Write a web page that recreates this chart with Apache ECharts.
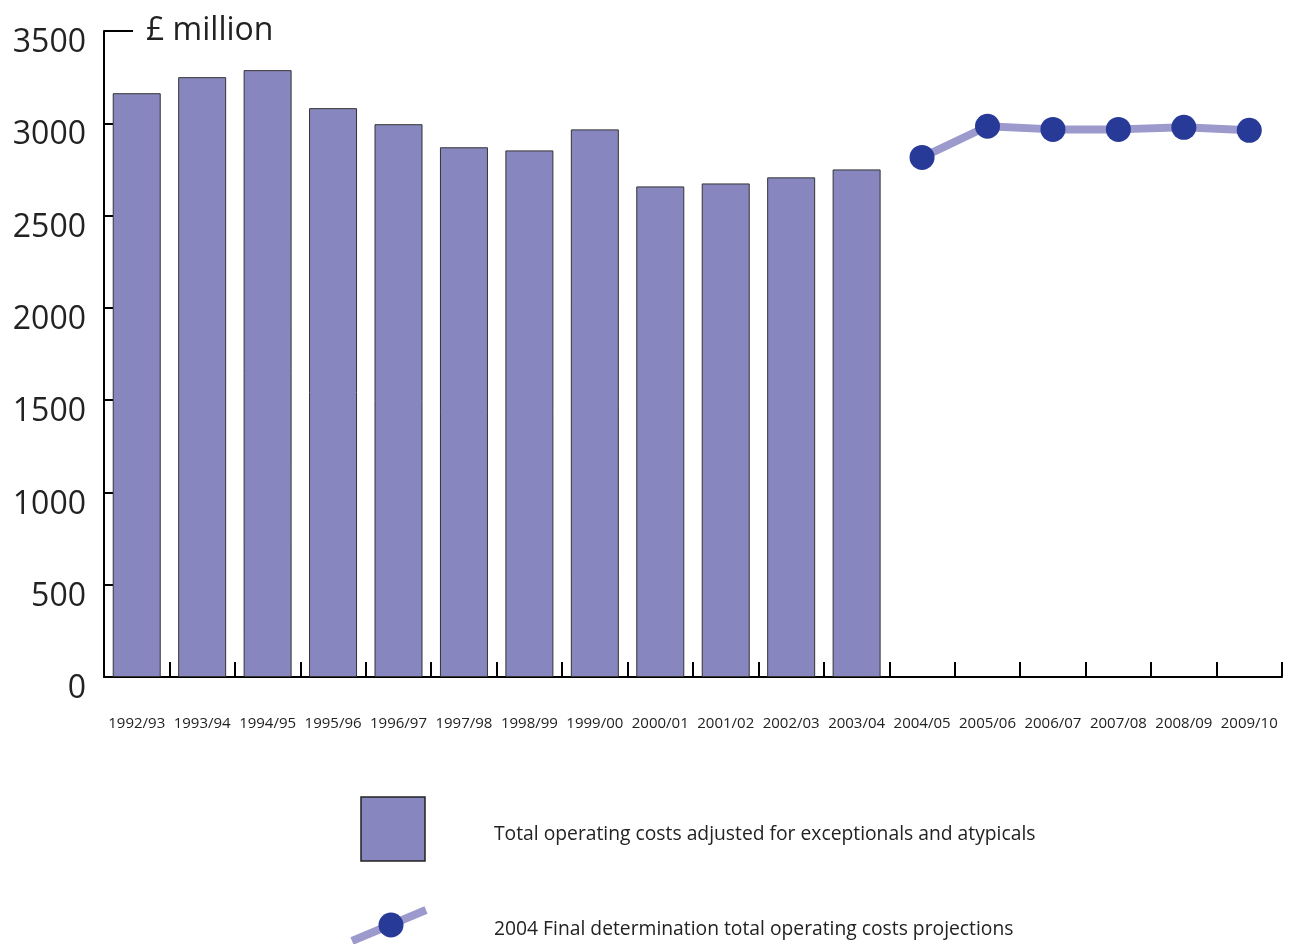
<!DOCTYPE html>
<html>
<head>
<meta charset="utf-8">
<script src="https://cdn.jsdelivr.net/npm/echarts@6/dist/echarts.min.js"></script>
<style>
html,body{margin:0;padding:0;background:#fff;}
#chart{width:1289px;height:944px;}
</style>
</head>
<body>
<div id="chart"></div>
<script>
var categories = ['1992/93','1993/94','1994/95','1995/96','1996/97','1997/98','1998/99','1999/00','2000/01','2001/02','2002/03','2003/04','2004/05','2005/06','2006/07','2007/08','2008/09','2009/10'];
var actualCosts = [3163, 3250, 3288, 3082, 2995, 2870, 2853, 2967, 2658, 2674, 2707, 2750, '-', '-', '-', '-', '-', '-'];
var projectedCosts = ['-', '-', '-', '-', '-', '-', '-', '-', '-', '-', '-', '-', 2815, 2984, 2967, 2967, 2978, 2962];
var seriesNames = ['Total operating costs adjusted for exceptionals and atypicals', '2004 Final determination total operating costs projections'];
var unitLabel = '£ million';

var FONT = '"Open Sans", "Noto Sans", sans-serif';
var BAR_COLOR = '#8886BF';
var LINE_COLOR = '#9C9ACD';
var DOT_COLOR = '#283A97';
var TEXT = '#222';

var chart = echarts.init(document.getElementById('chart'), null, {renderer: 'canvas'});
chart.setOption({
  animation: false,
  backgroundColor: '#fff',
  grid: {left: 104, right: 7, top: 31, bottom: 267, containLabel: false},
  xAxis: {
    type: 'category',
    data: categories,
    boundaryGap: true,
    axisLine: {show: true, lineStyle: {color: '#000', width: 2}},
    axisTick: {show: true, inside: true, length: 15, interval: 0, alignWithLabel: false, lineStyle: {color: '#000', width: 2}},
    axisLabel: {show: true, color: TEXT, fontFamily: FONT, fontSize: 15, margin: 39, interval: 0}
  },
  yAxis: [{
    type: 'value',
    min: 0, max: 3500, interval: 500,
    axisLine: {show: true, lineStyle: {color: '#000', width: 2}},
    axisTick: {show: true, inside: true, length: 9, lineStyle: {color: '#000', width: 2}},
    splitLine: {show: false},
    axisLabel: {color: TEXT, fontFamily: FONT, fontSize: 32, margin: 18, verticalAlign: 'top', lineHeight: 24,
      formatter: function (v) { return String(v); }}
  }, {
    type: 'value',
    position: 'left',
    min: 0, max: 3500, interval: 3500,
    name: unitLabel,
    nameLocation: 'end',
    nameGap: 0,
    nameTextStyle: {color: TEXT, fontFamily: FONT, fontSize: 32, align: 'left', verticalAlign: 'middle', padding: [0, 0, 6, 42]},
    axisLine: {show: false},
    axisTick: {show: true, inside: true, length: 29, lineStyle: {color: '#000', width: 2}},
    splitLine: {show: false},
    axisLabel: {show: false}
  }],
  series: [{
    name: seriesNames[0],
    type: 'bar',
    data: actualCosts,
    barWidth: 48,
    itemStyle: {color: BAR_COLOR, borderColor: '#333', borderWidth: 1}
  }, {
    name: seriesNames[1],
    type: 'line',
    data: projectedCosts,
    symbol: 'circle',
    symbolSize: 25,
    lineStyle: {color: LINE_COLOR, width: 8},
    itemStyle: {color: DOT_COLOR},
    z: 5
  }],
  graphic: [
    {type: 'rect', shape: {x: 361, y: 797, width: 64, height: 64}, style: {fill: BAR_COLOR, stroke: '#222', lineWidth: 1.5}},
    {type: 'text', x: 494, y: 835, style: {text: seriesNames[0], fill: TEXT, font: '19.3px ' + FONT, textVerticalAlign: 'middle', verticalAlign: 'middle'}},
    {type: 'line', shape: {x1: 352, y1: 941, x2: 426, y2: 910}, style: {stroke: LINE_COLOR, lineWidth: 8}},
    {type: 'circle', shape: {cx: 391, cy: 925, r: 12.5}, style: {fill: DOT_COLOR}},
    {type: 'text', x: 494, y: 930, style: {text: seriesNames[1], fill: TEXT, font: '19.3px ' + FONT, textVerticalAlign: 'middle', verticalAlign: 'middle'}}
  ]
});
</script>
</body>
</html>
